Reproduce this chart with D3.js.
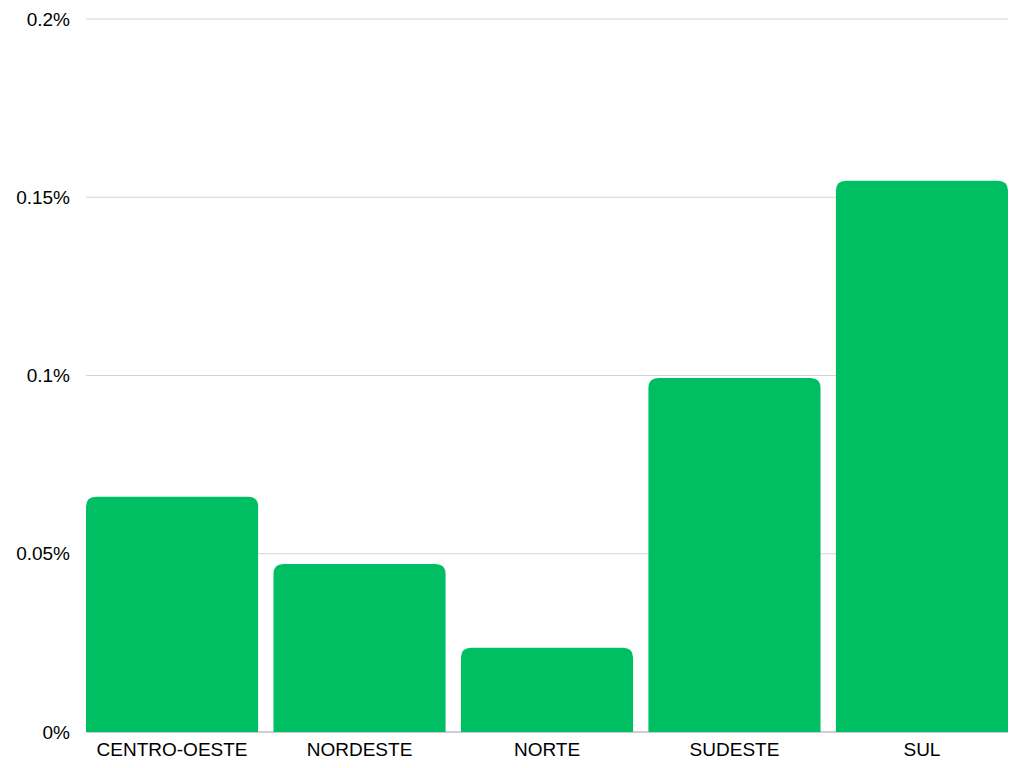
<!DOCTYPE html>
<html>
<head>
<meta charset="utf-8">
<script src="https://d3js.org/d3.v7.min.js"></script>
<style>
  body { margin: 0; background: #fff; }
  text { font-family: "Liberation Sans", Arial, sans-serif; fill: #000; }
</style>
</head>
<body>
<svg id="chart"></svg>
<script>
// data
var regions = ["CENTRO-OESTE", "NORDESTE", "NORTE", "SUDESTE", "SUL"];
var values = [0.066, 0.0471, 0.0236, 0.0993, 0.1546];
var yTicks = [0, 0.05, 0.1, 0.15, 0.2];
var yTickLabels = ["0%", "0.05%", "0.1%", "0.15%", "0.2%"];

var W = 1024, H = 768;
var margin = {top: 19, right: 16, bottom: 36, left: 86};
var width = W - margin.left - margin.right,
    height = H - margin.top - margin.bottom;

var svg = d3.select("#chart")
    .attr("width", W)
    .attr("height", H)
  .append("g")
    .attr("transform", "translate(" + margin.left + "," + margin.top + ")");

var x = d3.scaleBand().domain(regions).range([0, width]).paddingInner(0.082).paddingOuter(0);
var y = d3.scaleLinear().domain([0, 0.2]).range([height, 0]);

// gridlines
svg.selectAll(".grid")
    .data(yTicks)
  .enter().append("line")
    .attr("class", "grid")
    .attr("x1", 0)
    .attr("x2", width)
    .attr("y1", function(d) { return y(d); })
    .attr("y2", function(d) { return y(d); })
    .attr("stroke", function(d) { return d === 0 ? "#9e9e9e" : "#d4d4d4"; })
    .attr("stroke-width", 1);

// y labels
svg.selectAll(".ylab")
    .data(yTicks)
  .enter().append("text")
    .attr("class", "ylab")
    .attr("x", -16)
    .attr("y", function(d) { return y(d); })
    .attr("dy", "0.35em")
    .attr("text-anchor", "end")
    .style("font-size", "19px")
    .text(function(d, i) { return yTickLabels[i]; });

// bars with rounded top corners
function barPath(x0, w, yTop, yBot, r) {
  r = Math.min(r, w / 2, yBot - yTop);
  return "M" + x0 + "," + yBot +
         "V" + (yTop + r) +
         "Q" + x0 + "," + yTop + " " + (x0 + r) + "," + yTop +
         "H" + (x0 + w - r) +
         "Q" + (x0 + w) + "," + yTop + " " + (x0 + w) + "," + (yTop + r) +
         "V" + yBot + "Z";
}

svg.selectAll(".bar")
    .data(regions)
  .enter().append("path")
    .attr("class", "bar")
    .attr("fill", "#00bf63")
    .attr("d", function(d, i) {
      return barPath(x(d), x.bandwidth(), y(values[i]), y(0), 10);
    });

// x labels
svg.selectAll(".xlab")
    .data(regions)
  .enter().append("text")
    .attr("class", "xlab")
    .attr("x", function(d) { return x(d) + x.bandwidth() / 2; })
    .attr("y", height + 24)
    .attr("text-anchor", "middle")
    .style("font-size", "19px")
    .text(function(d) { return d; });
</script>
</body>
</html>
